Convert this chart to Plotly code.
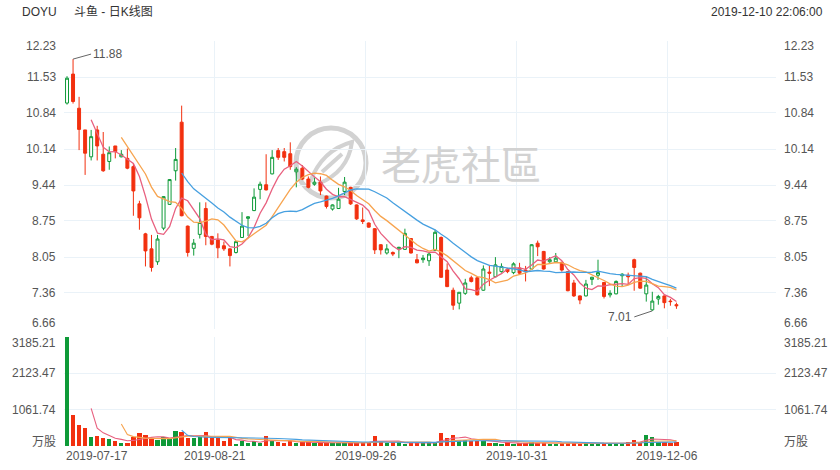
import plotly.graph_objects as go
import pandas as pd

# ---------------- data ----------------
holidays = ["2019-09-02", "2019-11-28"]
dates = [d.strftime("%Y-%m-%d") for d in pd.bdate_range("2019-07-17", "2019-12-09")
         if d.strftime("%Y-%m-%d") not in holidays]

open_ = [11.03, 11.59, 10.93, 10.51, 9.99, 10.51, 10.04, 9.90, 10.20, 9.99,
         9.96, 9.80, 9.08, 8.50, 8.21, 7.96, 8.61, 9.07, 9.72, 10.66,
         8.65, 8.22, 8.49, 8.99, 8.45, 8.38, 8.27, 8.21, 8.14, 8.43,
         8.80, 8.95, 9.36, 9.45, 9.66, 10.11, 10.09, 10.05, 9.70, 9.77,
         9.56, 9.46, 9.50, 9.23, 8.98, 8.99, 9.32, 9.40, 9.06, 8.77,
         8.71, 8.60, 8.29, 8.13, 8.14, 8.21, 8.20, 8.41, 8.00, 8.00,
         7.98, 8.18, 8.43, 7.80, 7.41, 7.16, 7.35, 7.65, 7.65, 7.41,
         7.76, 7.67, 7.77, 7.82, 7.75, 7.84, 7.80, 7.82, 8.32, 8.16,
         7.96, 7.96, 7.95, 7.77, 7.55, 7.30, 7.30, 7.62, 7.70, 7.56,
         7.32, 7.34, 7.69, 7.70, 8.00, 7.74, 7.34, 7.03, 7.24, 7.30,
         7.20, 7.13]
high = [11.55, 11.88, 11.15, 10.51, 10.51, 10.59, 10.47, 10.19, 10.20, 10.12,
        10.15, 9.87, 9.14, 8.52, 8.48, 8.48, 9.23, 9.56, 10.16, 10.98,
        8.66, 8.40, 9.11, 9.11, 8.46, 8.51, 8.35, 8.22, 8.35, 8.92,
        8.84, 9.38, 9.51, 10.04, 10.12, 10.16, 10.16, 10.27, 9.79, 9.83,
        9.61, 9.59, 9.61, 9.24, 9.07, 9.39, 9.60, 9.41, 9.07, 9.01,
        8.72, 8.61, 8.30, 8.30, 8.16, 8.25, 8.60, 8.42, 8.11, 8.09,
        8.14, 8.58, 8.45, 7.93, 7.46, 7.37, 7.63, 7.69, 7.67, 7.89,
        7.90, 8.05, 7.93, 7.84, 7.95, 7.94, 7.88, 8.30, 8.37, 8.17,
        8.05, 8.13, 7.96, 7.78, 7.61, 7.31, 7.61, 7.67, 8.00, 7.57,
        7.41, 7.60, 7.74, 7.75, 8.02, 7.75, 7.67, 7.38, 7.32, 7.31,
        7.24, 7.17]
low = [11.00, 11.02, 10.12, 9.64, 9.92, 9.92, 9.70, 9.74, 9.96, 9.98,
       9.75, 8.85, 8.58, 7.87, 7.77, 7.90, 8.57, 9.06, 9.53, 8.84,
       8.06, 8.08, 8.41, 8.28, 8.28, 8.03, 8.17, 7.87, 8.12, 8.42,
       8.46, 8.94, 9.17, 9.34, 9.65, 9.93, 9.90, 9.74, 9.40, 9.54,
       9.38, 9.43, 9.25, 8.99, 8.95, 8.98, 9.25, 9.06, 8.77, 8.69,
       8.62, 8.11, 8.10, 8.10, 8.07, 8.03, 8.19, 8.12, 7.93, 7.94,
       7.88, 8.17, 7.65, 7.47, 7.03, 7.04, 7.32, 7.56, 7.31, 7.40,
       7.49, 7.66, 7.75, 7.74, 7.72, 7.72, 7.58, 7.81, 8.07, 7.81,
       7.94, 7.95, 7.77, 7.39, 7.28, 7.14, 7.29, 7.51, 7.61, 7.25,
       7.27, 7.33, 7.48, 7.51, 7.40, 7.44, 7.19, 7.01, 7.13, 7.06,
       7.11, 7.05]
close = [11.51, 11.06, 10.52, 10.06, 10.38, 10.20, 9.72, 10.07, 10.09, 10.04,
         9.77, 9.33, 8.81, 8.17, 7.85, 8.40, 9.22, 9.55, 9.94, 8.85,
         8.14, 8.32, 8.72, 8.45, 8.30, 8.23, 8.21, 8.08, 8.35, 8.65,
         8.83, 9.21, 9.46, 9.35, 9.98, 9.98, 9.98, 9.80, 9.75, 9.56,
         9.40, 9.50, 9.33, 9.03, 9.06, 9.17, 9.50, 9.08, 8.79, 8.74,
         8.63, 8.19, 8.19, 8.21, 8.11, 8.24, 8.51, 8.13, 7.94, 8.03,
         8.11, 8.53, 7.66, 7.48, 7.12, 7.37, 7.55, 7.58, 7.32, 7.82,
         7.74, 7.90, 7.87, 7.77, 7.92, 7.74, 7.77, 8.29, 8.25, 7.82,
         8.00, 8.03, 7.80, 7.40, 7.30, 7.22, 7.53, 7.66, 7.75, 7.29,
         7.35, 7.58, 7.72, 7.67, 7.85, 7.45, 7.51, 7.20, 7.29, 7.17,
         7.19, 7.11]
volume = [3185.21, 906, 614, 516, 272, 292, 225, 205, 146, 96,
          96, 272, 371, 321, 205, 175, 254, 205, 438, 400,
          240, 225, 272, 400, 225, 254, 155, 240, 58, 155,
          88, 146, 96, 292, 155, 125, 96, 146, 96, 110,
          110, 88, 96, 88, 88, 88, 96, 88, 96, 110,
          100, 292, 125, 88, 110, 110, 60, 88, 88, 88,
          110, 88, 389, 243, 321, 175, 175, 146, 146, 155,
          100, 100, 58, 110, 58, 90, 80, 110, 90, 90,
          70, 70, 80, 90, 90, 70, 80, 70, 70, 80,
          70, 70, 100, 120, 175, 110, 321, 272, 110, 130,
          90, 110]

price_ticks = [6.66, 7.36, 8.05, 8.75, 9.44, 10.14, 10.84, 11.53, 12.23]
vol_ticks = [0, 1061.74, 2123.47, 3185.21]
vol_ticktext = ["万股", "1061.74", "2123.47", "3185.21"]
date_label_idx = [0, 25, 50, 75, 100]

# ---------------- style ----------------
RED = "#f2300f"
GREEN = "#0e9a38"
C5, C10, C20 = "#e8607f", "#f7a44f", "#47a0e0"
GRID = "#eaf2f8"
TXT = "#555555"
FONT = "Liberation Sans, Arial, Noto Sans CJK SC, sans-serif"
WM = "#d2d2d2"

L, R, T, B = 64, 776, 41, 446
W, H = 840, 470
def xp(px): return (px - L) / (R - L)
def yp(py): return (B - py) / (B - T)

n = len(close)
xi = list(range(n))
cs = pd.Series(close)
vs = pd.Series(volume)
ma = {k: cs.rolling(k).mean() for k in (5, 10, 20)}
vma = {k: vs.rolling(k).mean() for k in (5, 10, 20)}
colors = {5: C5, 10: C10, 20: C20}

fig = go.Figure()
fig.add_trace(go.Candlestick(
    x=xi, open=open_, high=high, low=low, close=close,
    xaxis="x", yaxis="y", whiskerwidth=0,
    increasing=dict(line=dict(color=GREEN, width=1), fillcolor="white"),
    decreasing=dict(line=dict(color=RED, width=1), fillcolor=RED),
    showlegend=False, hoverinfo="skip"))
for k in (5, 10, 20):
    fig.add_trace(go.Scatter(x=xi, y=ma[k], mode="lines", xaxis="x", yaxis="y",
                             line=dict(color=colors[k], width=1.3), showlegend=False,
                             hoverinfo="skip"))
bar_colors = [GREEN if c >= o else RED for o, c in zip(open_, close)]
fig.add_trace(go.Bar(x=xi, y=volume, xaxis="x2", yaxis="y2",
                     marker=dict(color=bar_colors, line=dict(width=0)),
                     width=0.72, showlegend=False, hoverinfo="skip"))
for k in (5, 10, 20):
    fig.add_trace(go.Scatter(x=xi, y=vma[k], mode="lines", xaxis="x2", yaxis="y2",
                             line=dict(color=colors[k], width=1.1), showlegend=False,
                             hoverinfo="skip"))

grid_x = [i - 0.5 for i in date_label_idx] + [117.5]
xcommon = dict(range=[-0.5, 117.5], showgrid=True, gridcolor=GRID, gridwidth=1,
               tickmode="array", tickvals=grid_x, showticklabels=False, ticks="",
               zeroline=False, showline=False, fixedrange=True)
ycommon = dict(showgrid=True, gridcolor=GRID, gridwidth=1, zeroline=False, showline=False,
               ticks="", showticklabels=False, fixedrange=True, tickmode="array")

fig.update_layout(
    width=W, height=H, margin=dict(l=L, r=W - R, t=T, b=H - B),
    paper_bgcolor="white", plot_bgcolor="white",
    font=dict(family=FONT, size=12, color=TXT),
    bargap=0,
    xaxis=dict(**xcommon, domain=[0, 1], anchor="y", rangeslider=dict(visible=False)),
    xaxis2=dict(**xcommon, domain=[0, 1], anchor="y2", matches="x"),
    yaxis=dict(**ycommon, domain=[yp(329), 1], range=[6.66, 12.23],
               tickvals=price_ticks, anchor="x"),
    yaxis2=dict(**ycommon, domain=[0, yp(337)], range=[0, 3185.21],
                tickvals=vol_ticks, anchor="x2"),
)

ann = []
# header
ann.append(dict(text="DOYU", x=xp(20), y=yp(12), xref="paper", yref="paper",
                xanchor="left", yanchor="middle", showarrow=False,
                font=dict(size=12, color="#333333")))
ann.append(dict(text="斗鱼 - 日K线图", x=xp(72), y=yp(12), xref="paper", yref="paper",
                xanchor="left", yanchor="middle", showarrow=False,
                font=dict(size=12, color="#333333")))
ann.append(dict(text="2019-12-10 22:06:00", x=xp(825), y=yp(12), xref="paper", yref="paper",
                xanchor="right", yanchor="middle", showarrow=False,
                font=dict(size=12, color="#333333")))

# y-axis labels on both sides (price and volume panes)
def ylabels(vals, texts, yref, top_shift, bottom_shift):
    for j, (v, t) in enumerate(zip(vals, texts)):
        shift = 0
        if j == len(vals) - 1:
            shift = top_shift
        elif j == 0:
            shift = bottom_shift
        for xx, anchor in ((xp(58), "right"), (xp(782), "left")):
            ann.append(dict(text=t, x=xx, y=v, xref="paper", yref=yref, yshift=shift,
                            xanchor=anchor, yanchor="middle", showarrow=False,
                            font=dict(size=12, color=TXT)))

ylabels(price_ticks, [f"{v:.2f}" for v in price_ticks], "y", -5, 6)
ylabels(vol_ticks, vol_ticktext, "y2", -6, 4)

# date labels
for k, i in enumerate(date_label_idx):
    ann.append(dict(text=dates[i], x=i - 0.5, y=yp(456), xref="x2", yref="paper",
                    xanchor="left" if k == 0 else "center", yanchor="middle",
                    showarrow=False, font=dict(size=12, color=TXT)))
# high / low callouts
hi_i = max(range(n), key=lambda i: high[i])
lo_i = min(range(n), key=lambda i: low[i])
ann.append(dict(text=f"{high[hi_i]:.2f}", x=hi_i, y=high[hi_i], xref="x", yref="y",
                showarrow=True, arrowhead=0, arrowwidth=1, arrowcolor="#666666",
                ax=18, ay=-5, xanchor="left", yanchor="middle",
                font=dict(size=12, color=TXT)))
ann.append(dict(text=f"{low[lo_i]:.2f}", x=lo_i, y=low[lo_i], xref="x", yref="y",
                showarrow=True, arrowhead=0, arrowwidth=1, arrowcolor="#666666",
                ax=-18, ay=6, xanchor="right", yanchor="middle",
                font=dict(size=12, color=TXT)))
# watermark text
ann.append(dict(text="老虎社區", x=xp(461), y=yp(163), xref="paper", yref="paper",
                xanchor="center", yanchor="middle", showarrow=False,
                font=dict(size=40, color=WM,
                          family="Noto Sans CJK TC, Noto Sans CJK SC, sans-serif")))
fig.update_layout(annotations=ann)

# watermark logo
fig.add_shape(type="circle", xref="paper", yref="paper",
              x0=xp(296), x1=xp(366), y0=yp(198), y1=yp(128),
              line=dict(color=WM, width=5), layer="below")
fig.add_shape(type="path", xref="paper", yref="paper",
              path=(f"M {xp(310)},{yp(182)} Q {xp(322)},{yp(150)} {xp(352)},{yp(142)} "
                    f"Q {xp(348)},{yp(172)} {xp(318)},{yp(184)}"),
              line=dict(color=WM, width=4), layer="below")
fig.add_shape(type="line", xref="paper", yref="paper",
              x0=xp(322), y0=yp(172), x1=xp(342), y1=yp(154),
              line=dict(color=WM, width=4), layer="below")

fig.write_html("out.html", config={"displayModeBar": False},
               post_script="document.body.style.margin='0';")
